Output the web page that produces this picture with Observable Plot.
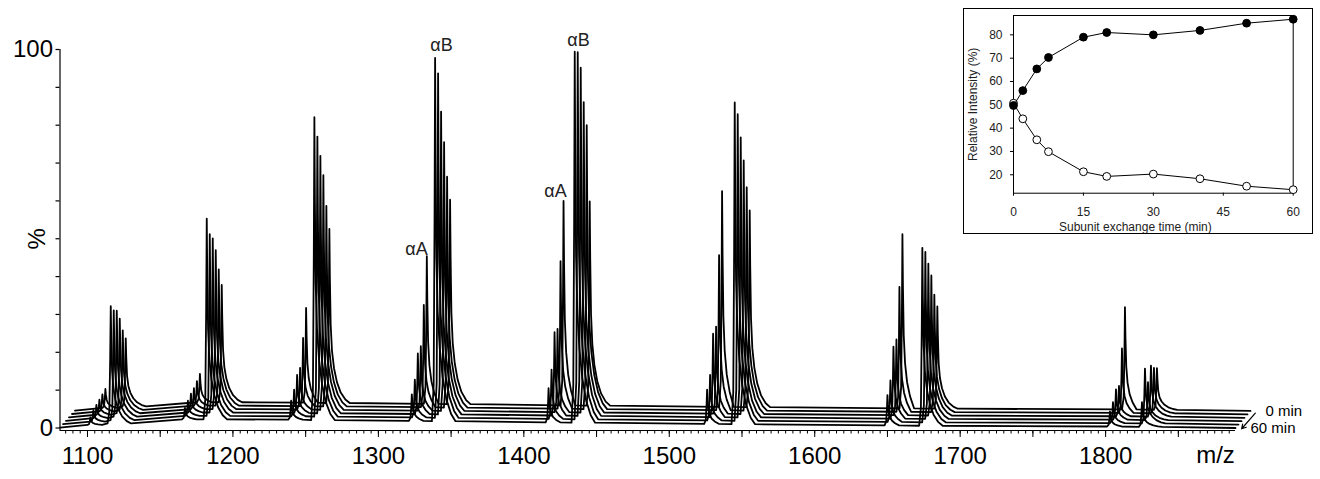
<!DOCTYPE html>
<html><head><meta charset="utf-8">
<script src="https://cdn.jsdelivr.net/npm/d3@7"></script>
<script src="https://cdn.jsdelivr.net/npm/@observablehq/plot@0.6"></script>
<style>
body{margin:0;background:#fff;font-family:"Liberation Sans",Arial,sans-serif;}
#wrap{position:relative;width:1320px;height:479px;overflow:hidden;}
#main{position:absolute;left:0;top:0;}
#inset{position:absolute;left:963px;top:8px;width:348px;height:224px;border:1px solid #000;background:#fff;}
</style></head><body><div id="wrap"><div id="main"></div><div id="inset"></div></div>
<script>
// ---- main spectrum data (trace 0 = 60 min, bottom-left ... trace 5 = 0 min, top-right)
const traceLabels = ["60 min", "", "", "", "", "0 min"];
const chargeStates = [18, 17, 16, 15, 14, 13, 12, 11];
const alphaAMz = [1102, 1167, 1240, 1323, 1417, 1526, 1650, 1803];
const alphaBMz = [1116, 1182, 1256, 1339, 1435, 1545, 1674, 1825];
const alphaABase = [0.8, 2.3, 2.2, 1.9, 1.5, 1.1, 0.7, 0.4];
const alphaBBase = [1.2, 2.3, 2.1, 1.8, 1.4, 1.0, 0.6, 0.3];
// peak heights above baseline, per trace t0..t5
const alphaAHeights = [
  [2, 3, 3.5, 4, 4.5, 5],
  [3, 4, 5, 5.5, 6.5, 7.5],
  [5, 7, 10, 11, 18, 25],
  [7, 10, 16, 17, 27, 39],
  [9, 13, 22, 22, 39, 54],
  [9, 12, 22, 23, 41, 57],
  [8, 11, 19, 20, 33, 46],
  [4, 5.5, 8, 8, 17, 27]
];
const alphaBHeights = [
  [31, 29, 28, 25, 21, 18],
  [53, 48, 46, 42, 36, 31],
  [80, 74, 68, 62, 53, 46],
  [96, 91, 80, 71, 61, 54],
  [98, 97, 92, 82, 75, 54],
  [85, 81, 74, 67, 59, 52],
  [47, 45, 41, 37, 31, 27],
  [6.5, 14.5, 10, 13.5, 12, 11]
];
// peak profile read from the spikes: [m/z offset from apex, fraction of height]
const peakShapeA = [[-2.0,0],[-0.9,0.12],[-0.35,0.55],[0,1],[0.35,0.7],[0.9,0.42],[1.8,0.26],[3.2,0.15],[5.2,0.07],[8,0]];
const peakShapeB = [[-2.2,0],[-1.0,0.1],[-0.4,0.55],[0,1],[0.35,0.72],[0.9,0.45],[1.8,0.3],[3.2,0.2],[5.2,0.12],[7.8,0.06],[11,0.02],[14,0]];
const spectrumStart = [1081.1, 0.1];
const spectrumEnd = [1889.3, 0.0];
const traceStepMz = 2.06, traceStepPct = 0.9;

const peakLabels = ["αA", "αB", "αA", "αB"];
const peakLabelMz = [1326.2, 1343.4, 1421.8, 1437.6];
const peakLabelPct = [45.6, 99.7, 60.9, 100.8];

const xTicksMajor = [1100, 1200, 1300, 1400, 1500, 1600, 1700, 1800];
const yTicks = [0, 10, 20, 30, 40, 50, 60, 70, 80, 90, 100];

// ---- inset data
const insetTime = [0, 2, 5, 7.5, 15, 20, 30, 40, 50, 60];
const insetFilled = [49.7, 56.1, 65.4, 70.3, 79.0, 81.0, 80.0, 81.9, 85.0, 86.7];
const insetOpen = [50.7, 44.0, 35.0, 29.9, 21.3, 19.3, 20.3, 18.3, 15.1, 13.6];
const insetXTicks = [0, 15, 30, 45, 60];
const insetYTicks = [20, 30, 40, 50, 60, 70, 80];

// ---- build trace vertices
const rows = [];
const ends = [];
for (let t = 0; t < traceLabels.length; t++) {
  const sx = t * traceStepMz, sy = t * traceStepPct;
  rows.push({trace: t, mz: spectrumStart[0] + sx, pct: spectrumStart[1] + sy});
  chargeStates.forEach((z, i) => {
    [[alphaAMz, alphaABase, alphaAHeights, peakShapeA], [alphaBMz, alphaBBase, alphaBHeights, peakShapeB]].forEach(([mzs, bases, hs, shape]) => {
      for (const [dx, f] of shape) rows.push({trace: t, mz: mzs[i] + dx + sx, pct: bases[i] + sy + hs[i][t] * f});
    });
  });
  const end = {trace: t, mz: spectrumEnd[0] + sx, pct: spectrumEnd[1] + sy, label: traceLabels[t]};
  rows.push(end);
  ends.push(end);
}
const labeledEnds = ends.filter(d => d.label);
const arrowData = [{x1: ends[ends.length - 1].mz, y1: ends[ends.length - 1].pct, x2: ends[0].mz, y2: ends[0].pct}];
const annos = peakLabels.map((s, i) => ({s, mz: peakLabelMz[i], pct: peakLabelPct[i]}));

const xDomain = [1081.1, 1889.3];
const yDomain = [-0.66, 100];

const main = Plot.plot({
  width: 1320, height: 479,
  marginLeft: 59.5, marginRight: 85, marginTop: 49, marginBottom: 49,
  x: {domain: xDomain},
  y: {domain: yDomain},
  style: {fontFamily: "'Liberation Sans', Arial, sans-serif", fontSize: "24px", color: "#000", background: "transparent"},
  marks: [
    Plot.ruleX([xDomain[0]], {stroke: "#000", strokeWidth: 1.2}),
    Plot.ruleY([yDomain[0]], {stroke: "#000", strokeWidth: 1.2}),
    Plot.axisY({ticks: yTicks, tickSize: 4, tickFormat: () => "", label: null, strokeWidth: 1.2}),
    Plot.axisY({ticks: [0, 100], tickSize: 0, tickPadding: 7, tickFormat: d => String(d), label: null, fontSize: 24}),
    Plot.text([50], {x: xDomain[0], y: d => d, text: () => "%", rotate: -90, dx: -23, fontSize: 24, textAnchor: "middle", lineAnchor: "middle"}),
    Plot.axisX({ticks: d3.range(1085, 1890, 5), tickSize: 3.5, tickFormat: () => "", label: null}),
    Plot.axisX({ticks: d3.range(1100, 1890, 50), tickSize: 7, tickFormat: () => "", label: null}),
    Plot.axisX({ticks: xTicksMajor, tickSize: 0, tickPadding: 16, tickFormat: d => String(d), label: null, fontSize: 24}),
    Plot.text(["m/z"], {frameAnchor: "bottom-right", text: d => d, dx: -20, dy: 25, fontSize: 24, textAnchor: "middle", lineAnchor: "middle"}),
    Plot.line(rows, {x: "mz", y: "pct", z: "trace", stroke: "#000", strokeWidth: 1.8, strokeLinejoin: "round"}),
    Plot.text(annos, {x: "mz", y: "pct", text: "s", fontSize: 18, textAnchor: "middle", lineAnchor: "bottom", fill: "#222"}),
    Plot.text(labeledEnds, {x: "mz", y: "pct", text: "label", dx: 15, dy: 0, fontSize: 15, textAnchor: "start", lineAnchor: "middle"}),
    Plot.arrow(arrowData, {x1: "x1", y1: "y1", x2: "x2", y2: "y2", dx: 5.5, dy: 1.5, stroke: "#000", strokeWidth: 1.2, headLength: 6, insetStart: 1, insetEnd: 1})
  ]
});
document.getElementById("main").appendChild(main);

const filled = insetTime.map((t, i) => ({t, v: insetFilled[i]}));
const open = insetTime.map((t, i) => ({t, v: insetOpen[i]}));
const inset = Plot.plot({
  width: 348, height: 224,
  marginLeft: 49, marginRight: 19.3, marginTop: 6, marginBottom: 40.3,
  x: {domain: [0, 60]},
  y: {domain: [12.1, 88.3]},
  style: {fontFamily: "'Liberation Sans', Arial, sans-serif", fontSize: "12px", color: "#222", background: "transparent"},
  marks: [
    Plot.frame({stroke: "#000", strokeWidth: 1}),
    Plot.axisX({ticks: insetXTicks, tickSize: 3, tickPadding: 11, label: null, stroke: "#000"}),
    Plot.axisY({ticks: insetYTicks, tickSize: 3, tickPadding: 8, label: null, stroke: "#000"}),
    Plot.text(["Subunit exchange time (min)"], {frameAnchor: "bottom", text: d => d, dx: -18, dy: 34, textAnchor: "middle", lineAnchor: "middle", fontSize: 12}),
    Plot.text(["Relative Intensity (%)"], {frameAnchor: "left", text: d => d, rotate: -90, dx: -40, textAnchor: "middle", lineAnchor: "middle", fontSize: 12}),
    Plot.line(open, {x: "t", y: "v", stroke: "#000", strokeWidth: 1}),
    Plot.dot(open, {x: "t", y: "v", r: 3.9, fill: "#fff", stroke: "#000", strokeWidth: 1}),
    Plot.line(filled, {x: "t", y: "v", stroke: "#000", strokeWidth: 1}),
    Plot.dot(filled, {x: "t", y: "v", r: 3.9, fill: "#000", stroke: "#000", strokeWidth: 1})
  ]
});
document.getElementById("inset").appendChild(inset);
</script></body></html>
